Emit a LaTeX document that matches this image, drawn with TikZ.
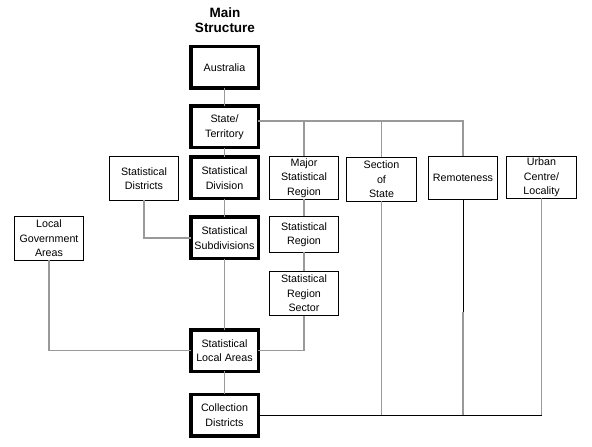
\documentclass[tikz,border=0pt]{standalone}
\usepackage{fontspec}
\setmainfont{Liberation Sans}
\begin{document}
\begin{tikzpicture}[x=1bp,y=-1bp,
  every node/.style={font=\fontsize{10.7bp}{14.5bp}\selectfont, align=center, inner sep=0pt, outer sep=0pt},
  mainbox/.style={draw=black, line width=3.5bp, minimum width=67.5bp, minimum height=41.5bp},
  thinbox/.style={draw=black, line width=1bp, minimum width=69bp, minimum height=44bp},
  conn/.style={draw=black!40, line width=1.3bp},
  darkconn/.style={draw=black, line width=0.9bp}]
\useasboundingbox (0,0) rectangle (592,447);
\node[font=\fontsize{13.5bp}{15bp}\selectfont\bfseries] (title) at (225,20) {Main\\Structure};
% main column
\node[mainbox] (aus) at (224.5,67.5) {Australia};
\node[mainbox] (state) at (224.5,127) {State/\\Territory};
\node[mainbox] (div) at (224.5,178) {Statistical\\Division};
\node[mainbox] (sub) at (224.5,238) {Statistical\\Subdivisions};
\node[mainbox] (sla) at (224.5,350.5) {Statistical\\Local Areas};
\node[mainbox] (cd) at (224.5,415) {Collection\\Districts};
% side boxes
\node[thinbox] (sd) at (144,178.5) {Statistical\\Districts};
\node[thinbox] (lga) at (49,238.5) {Local\\Government\\Areas};
\node[thinbox, minimum height=43bp] (msr) at (304,178) {Major\\Statistical\\Region};
\node[thinbox, minimum height=36bp] (sr) at (304,234.5) {Statistical\\Region};
\node[thinbox] (srs) at (304,293.5) {Statistical\\Region\\Sector};
\node[thinbox, minimum width=70bp] (sos) at (381.5,179.5) {Section\\of\\State};
\node[thinbox, minimum height=43bp] (rem) at (463,178) {Remoteness};
\node[thinbox, minimum width=70bp, minimum height=42bp] (urb) at (541.5,177.5) {Urban\\Centre/\\Locality};
% coordinates
\coordinate (j) at (463,121);
\coordinate (remk) at (463,312);
% main column connectors
\draw[conn] (aus.south) -- (state.north);
\draw[conn] (state.south) -- (div.north);
\draw[conn] (div.south) -- (sub.north);
\draw[conn] (sub.south) -- (sla.north);
\draw[conn] (sla.south) -- (cd.north);
% state branch
\draw[conn] (state.east |- j) -- (j) -- (rem.north);
\draw[conn] (msr.north) -- (msr.north |- j);
\draw[conn] (sos.north) -- (sos.north |- j);
\draw[conn] (msr.south) -- (sr.north);
\draw[conn] (sr.south) -- (srs.north);
\draw[conn] (srs.south) |- (sla.east);
\draw[conn] (sd.south) |- (sub.west);
\draw[conn] (lga.south) |- (sla.west);
% collection district links
\draw[conn] (sos.south) -- (sos.south |- cd.east);
\draw[conn] (remk) -- (rem.south |- cd.east);
\draw[darkconn] (rem.south) -- (remk);
\draw[conn] (urb.south) -- (urb.south |- cd.east);
\draw[darkconn] (cd.east) -- (urb.south |- cd.east);
\end{tikzpicture}
\end{document}
